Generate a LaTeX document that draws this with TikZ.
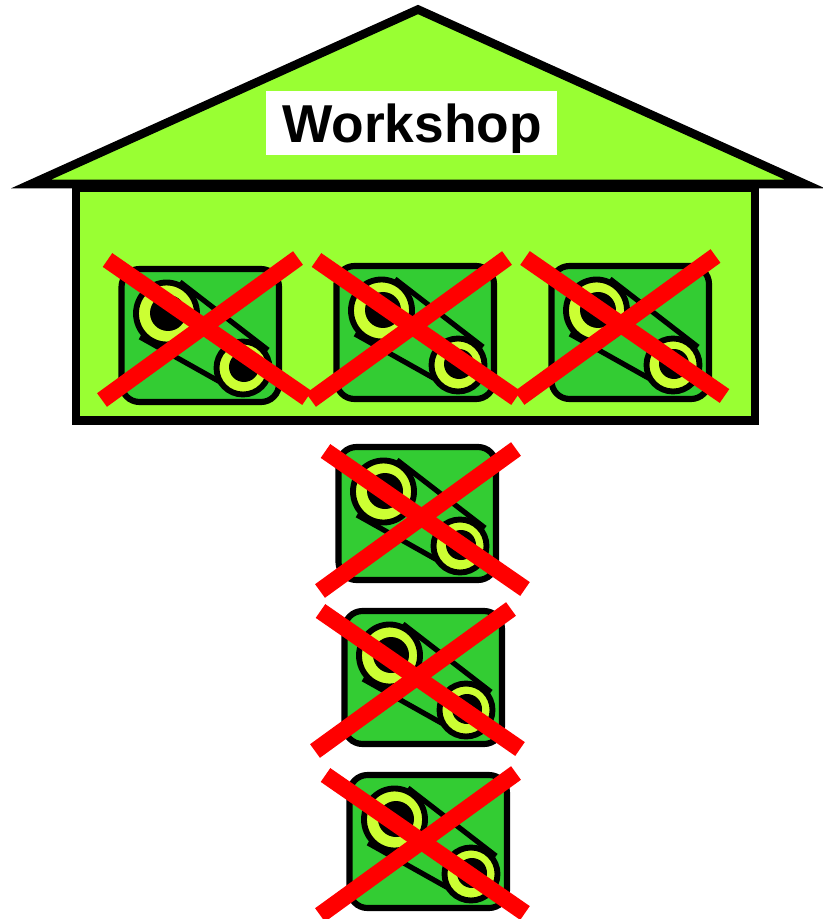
\documentclass[tikz,border=0pt]{standalone}
\usepackage{fontspec}
\setmainfont{Liberation Sans}
\definecolor{wall}{HTML}{99FF33}
\definecolor{machine}{HTML}{33CC33}
\definecolor{wheel}{HTML}{CCFF33}
\definecolor{crossred}{HTML}{FF0000}
\tikzset{
  housepart/.style={draw=black,fill=wall,line width=6.4pt,miter limit=10},
  casing/.style={draw=black,fill=machine,line width=4.6pt,rounded corners=13.5pt},
  beltline/.style={draw=black,line width=3.9pt},
  wheelpart/.style={draw=black,fill=wheel,line width=4.4pt},
  hub/.style={fill=black},
  crossline/.style={draw=crossred,line width=12.6pt},
  pics/gearbox/.style={code={
    \path[casing] (2.5,3) rectangle (160,136);
    \draw[beltline] (61,16) -- (149,84);
    \draw[beltline] (21,71) -- (103,117);
    \path[wheelpart] (47.5,47.5) circle[x radius=30.5,y radius=31];
    \path[hub] (49,47) circle[radius=18];
    \path[wheelpart] (124,102) circle[radius=26.5];
    \path[hub] (125,101) circle[radius=15];
  }},
  pics/crossout/.style={code={
    \draw[crossline] (0,0) -- (199.5,138);
    \draw[crossline] (190.5,-2) -- (-5.5,140);
  }}
}
\begin{document}
\begin{tikzpicture}[x=0.75pt,y=-0.75pt]
\useasboundingbox (0,0) rectangle (822,919);
\path[housepart] (76,188) rectangle (755,420.5);
\path[housepart,line join=miter] (418,9.5) -- (805,184) -- (31,184) -- cycle;
\fill[white] (266,91.5) rectangle (557,155);
\node[anchor=base,inner sep=0pt,font=\fontsize{40pt}{44pt}\selectfont\bfseries] (title) at (412,143) {Workshop};
\pic at (119,266) {gearbox};
\pic at (334,263) {gearbox};
\pic at (549,263) {gearbox};
\pic at (336,444) {gearbox};
\pic at (342,608) {gearbox};
\pic at (347,772) {gearbox};
\pic at (107.5,260) {crossout};
\pic at (316.5,260) {crossout};
\pic at (525,258) {crossout};
\pic at (325.5,451) {crossout};
\pic at (320.5,611) {crossout};
\pic at (325.5,775) {crossout};
\end{tikzpicture}
\end{document}
